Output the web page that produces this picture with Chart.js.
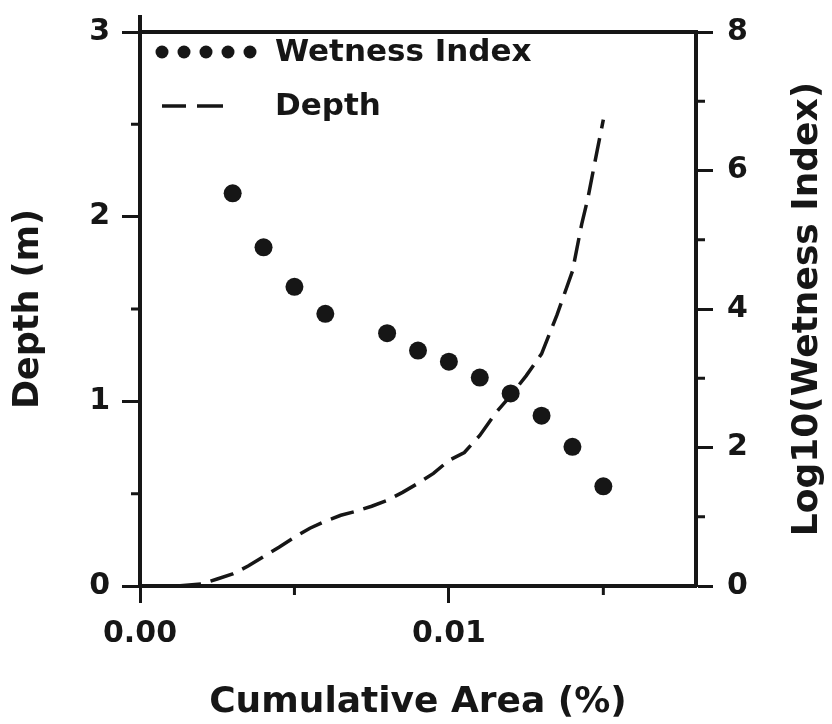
<!DOCTYPE html>
<html>
<head>
<meta charset="utf-8">
<script src="https://cdn.jsdelivr.net/npm/chart.js@4.4.1/dist/chart.umd.min.js"></script>
<style>
  html, body { margin: 0; padding: 0; background: #fff; }
  canvas { display: block; }
</style>
</head>
<body>
<canvas id="chart" width="832" height="724"></canvas>
<script>
// Wetness index samples: cumulative area (%) and log10 of the index
const wetnessArea = [0.003, 0.004, 0.005, 0.006, 0.008, 0.009, 0.010, 0.011, 0.012, 0.013, 0.014, 0.015];
const wetnessLog10 = [5.67, 4.89, 4.32, 3.93, 3.65, 3.40, 3.24, 3.01, 2.78, 2.46, 2.01, 1.44];

// Depth curve: cumulative area (%) and depth (m)
const depthArea = [0.0012, 0.002, 0.0025, 0.003, 0.0035, 0.004, 0.0045, 0.005, 0.0055, 0.006,
                   0.0065, 0.007, 0.0075, 0.008, 0.0085, 0.009, 0.0095, 0.010, 0.0105, 0.011,
                   0.0115, 0.012, 0.0125, 0.013, 0.0135, 0.014, 0.0143, 0.0145, 0.0148, 0.015];
const depthM = [0.0, 0.011, 0.038, 0.065, 0.108, 0.159, 0.21, 0.264, 0.313, 0.351,
                0.383, 0.405, 0.432, 0.464, 0.507, 0.556, 0.61, 0.68, 0.723, 0.815,
                0.934, 1.031, 1.138, 1.257, 1.468, 1.705, 1.96, 2.10, 2.358, 2.525];

// Axis ticks
const areaTicks = [0, 0.01];
const areaMinorTicks = [0.005, 0.015];
const depthTicks = [0, 1, 2, 3];
const depthMinorTicks = [0.5, 1.5, 2.5];
const wetTicks = [0, 2, 4, 6, 8];
const wetMinorTicks = [1, 3, 5, 7];

const INK = '#161616';
const FONT = '"DejaVu Sans", sans-serif';

const wetnessPoints = wetnessArea.map((x, i) => ({ x, y: wetnessLog10[i] }));
const depthPoints = depthArea.map((x, i) => ({ x, y: depthM[i] }));

// Frame top edge, axis extension and minor ticks
const framePlugin = {
  id: 'frame',
  afterDraw(chart) {
    const { ctx, chartArea: a, scales } = chart;
    ctx.save();
    ctx.strokeStyle = INK;
    ctx.lineCap = 'butt';
    ctx.lineWidth = 4;
    ctx.beginPath();
    ctx.moveTo(a.left - 2, a.top);
    ctx.lineTo(a.right + 2, a.top);
    ctx.moveTo(a.left, a.top);
    ctx.lineTo(a.left, a.top - 17);
    ctx.stroke();

    ctx.lineWidth = 3;
    ctx.beginPath();
    areaMinorTicks.forEach(v => {
      const px = scales.x.getPixelForValue(v);
      ctx.moveTo(px, a.bottom);
      ctx.lineTo(px, a.bottom + 9);
    });
    depthMinorTicks.forEach(v => {
      const py = scales.y.getPixelForValue(v);
      ctx.moveTo(a.left, py);
      ctx.lineTo(a.left - 9, py);
    });
    wetMinorTicks.forEach(v => {
      const py = scales.y2.getPixelForValue(v);
      ctx.moveTo(a.right, py);
      ctx.lineTo(a.right + 9, py);
    });
    ctx.stroke();

    // Right-hand axis title, reading upwards
    ctx.fillStyle = INK;
    ctx.font = 'bold 36px ' + FONT;
    ctx.textAlign = 'center';
    ctx.textBaseline = 'middle';
    ctx.translate(808, (a.top + a.bottom) / 2);
    ctx.rotate(-Math.PI / 2);
    ctx.fillText('Log10(Wetness Index)', 0, 0);
    ctx.restore();
  }
};

// Legend in the upper-left corner of the plot
const legendPlugin = {
  id: 'cornerLegend',
  afterDatasetsDraw(chart) {
    const { ctx } = chart;
    ctx.save();
    ctx.fillStyle = INK;
    ctx.strokeStyle = INK;
    for (let i = 0; i < 5; i++) {
      ctx.beginPath();
      ctx.arc(162 + i * 22, 52, 6.5, 0, Math.PI * 2);
      ctx.fill();
    }
    ctx.lineWidth = 3.5;
    ctx.beginPath();
    ctx.moveTo(162, 106); ctx.lineTo(186, 106);
    ctx.moveTo(197, 106); ctx.lineTo(223, 106);
    ctx.stroke();
    ctx.font = 'bold 31px ' + FONT;
    ctx.textAlign = 'left';
    ctx.textBaseline = 'middle';
    ctx.fillText('Wetness Index', 275, 53);
    ctx.fillText('Depth', 275, 107);
    ctx.restore();
  }
};

new Chart(document.getElementById('chart'), {
  type: 'scatter',
  data: {
    datasets: [
      {
        label: 'Wetness Index',
        data: wetnessPoints,
        yAxisID: 'y2',
        pointRadius: 9,
        pointBackgroundColor: INK,
        pointBorderWidth: 0,
        showLine: false
      },
      {
        label: 'Depth',
        data: depthPoints,
        yAxisID: 'y',
        showLine: true,
        pointRadius: 0,
        borderColor: INK,
        borderWidth: 3.5,
        borderDash: [24, 10],
        tension: 0,
        fill: false
      }
    ]
  },
  options: {
    responsive: false,
    animation: false,
    devicePixelRatio: 1,
    layout: { padding: { top: 30, left: 0, right: 0, bottom: 0 } },
    plugins: { legend: { display: false }, tooltip: { enabled: false } },
    scales: {
      x: {
        type: 'linear',
        position: 'bottom',
        min: 0,
        max: 0.018,
        afterBuildTicks: s => { s.ticks = areaTicks.map(v => ({ value: v })); },
        afterFit: s => { s.height = 138; },
        border: { display: true, color: INK, width: 4 },
        grid: { drawOnChartArea: false, drawTicks: true, tickLength: 17, tickWidth: 3, tickColor: INK },
        ticks: {
          color: INK,
          padding: 13,
          maxRotation: 0,
          font: { family: FONT, size: 30, weight: 'bold' },
          callback: v => Number(v).toFixed(2)
        },
        title: {
          display: true,
          text: 'Cumulative Area (%)',
          color: INK,
          padding: { top: 0, bottom: 0 },
          font: { family: FONT, size: 36, weight: 'bold' }
        }
      },
      y: {
        type: 'linear',
        position: 'left',
        min: 0,
        max: 3,
        afterBuildTicks: s => { s.ticks = depthTicks.map(v => ({ value: v })); },
        afterFit: s => { s.width = 140; },
        border: { display: true, color: INK, width: 4 },
        grid: { drawOnChartArea: false, drawTicks: true, tickLength: 18, tickWidth: 3, tickColor: INK },
        ticks: {
          color: INK,
          padding: 12,
          font: { family: FONT, size: 30, weight: 'bold' },
          callback: v => String(v)
        },
        title: {
          display: true,
          text: 'Depth (m)',
          color: INK,
          padding: { top: 8, bottom: 0 },
          font: { family: FONT, size: 35, weight: 'bold' }
        }
      },
      y2: {
        type: 'linear',
        position: 'right',
        min: 0,
        max: 8,
        afterBuildTicks: s => { s.ticks = wetTicks.map(v => ({ value: v })); },
        afterFit: s => { s.width = 136; },
        border: { display: true, color: INK, width: 4 },
        grid: { drawOnChartArea: false, drawTicks: true, tickLength: 17, tickWidth: 3, tickColor: INK },
        ticks: {
          color: INK,
          padding: 14,
          font: { family: FONT, size: 30, weight: 'bold' },
          callback: v => String(v)
        },
        title: { display: false }
      }
    }
  },
  plugins: [framePlugin, legendPlugin]
});
</script>
</body>
</html>
